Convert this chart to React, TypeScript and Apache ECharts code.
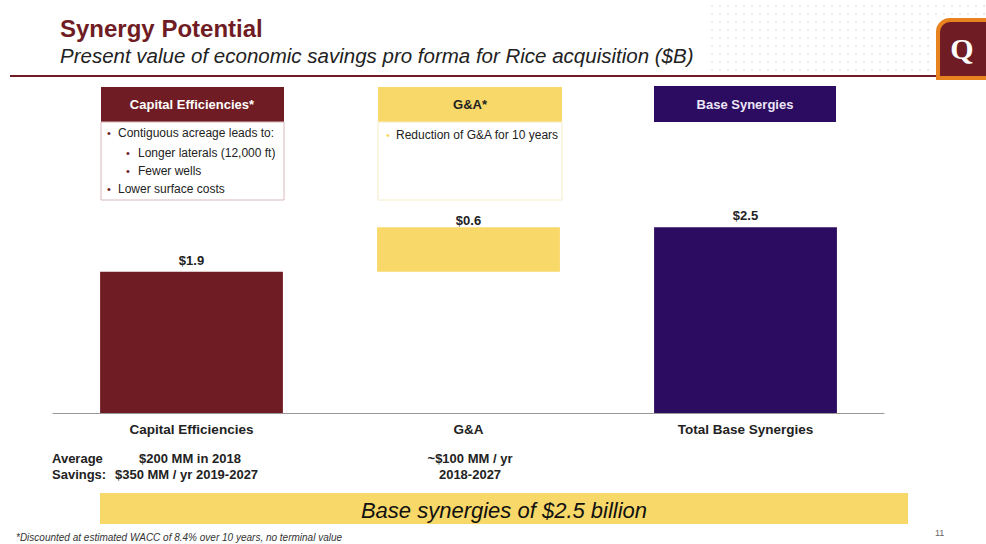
import React, { useEffect, useRef } from "react";
import * as echarts from "echarts";

const categories = ["Capital Efficiencies", "G&A", "Total Base Synergies"];
const values = [1.9, 0.6, 2.5];
const valueLabels = ["$1.9", "$0.6", "$2.5"];
const baseValues = [0, 1.9, 0];
const barColors = ["#701C24", "#F8D868", "#2C0C60"];

const RED = "#701C24";
const YELLOW = "#F8D868";
const PURPLE = "#2C0C60";
const FONT = "Liberation Sans, Arial, sans-serif";

function dots(): any[] {
  const out: any[] = [];
  for (let r = 0; r < 9; r++) {
    for (let c = 0; c < 36; c++) {
      const x = 712 + c * 8;
      const y = 6 + r * 8;
      if (x > 935 && y > 16) continue;
      out.push({
        type: "circle",
        shape: { cx: x, cy: y, r: 1 },
        style: { fill: "#e8e8e8" },
        silent: true,
      });
    }
  }
  return out;
}

export default function App() {
  const ref = useRef<HTMLDivElement>(null);
  useEffect(() => {
    if (!ref.current) return;
    const chart = echarts.init(ref.current, null, { renderer: "svg" });
    const txt = (x: number, y: number, text: string, o: any = {}) => ({
      type: "text",
      x,
      y,
      style: {
        text,
        fill: o.fill || "#222",
        font: o.font || `12px ${FONT}`,
        textAlign: o.align || "left",
        textVerticalAlign: "middle",
      },
    });
    chart.setOption({
      animation: false,
      backgroundColor: "#ffffff",
      grid: { left: 53, right: 102, top: 190, bottom: 131 },
      xAxis: {
        type: "category",
        data: categories,
        axisLine: { show: true, lineStyle: { color: "#999", width: 1 } },
        axisTick: { show: false },
        axisLabel: {
          color: "#222",
          fontFamily: FONT,
          fontWeight: "bold",
          fontSize: 13.5,
          margin: 9,
        },
      },
      yAxis: { type: "value", min: 0, max: 3, show: false, splitLine: { show: false } },
      series: [
        {
          type: "bar",
          stack: "w",
          data: baseValues,
          itemStyle: { color: "transparent" },
          barWidth: "66%",
          silent: true,
        },
        {
          type: "bar",
          stack: "w",
          barWidth: "66%",
          data: values.map((v, i) => ({
            value: v,
            itemStyle: { color: barColors[i] },
            label: i === 1 ? { distance: 0 } : undefined,
          })),
          label: {
            show: true,
            position: "top",
            distance: 5,
            color: "#222",
            fontFamily: FONT,
            fontWeight: "bold",
            fontSize: 13,
            formatter: (p: any) => valueLabels[p.dataIndex],
          },
        },
      ],
      graphic: [
        ...dots(),
        // title
        txt(60, 28, "Synergy Potential", { fill: RED, font: `bold 24px ${FONT}` }),
        txt(60, 55, "Present value of economic savings pro forma for Rice acquisition ($B)", {
          fill: "#222",
          font: `italic 20.5px ${FONT}`,
        }),
        {
          type: "line",
          shape: { x1: 10, y1: 76, x2: 945, y2: 76 },
          style: { stroke: RED, lineWidth: 2 },
        },
        // logo
        {
          type: "rect",
          shape: { x: 938, y: 20, width: 60, height: 58, r: [12, 0, 0, 0] },
          style: { fill: RED, stroke: "#E8821E", lineWidth: 4 },
        },
        txt(962, 48, "Q", { fill: "#ffffff", font: `bold 30px Liberation Serif, serif`, align: "center" }),
        // Capital Efficiencies box
        { type: "rect", shape: { x: 101, y: 87, width: 183, height: 35 }, style: { fill: RED } },
        { type: "rect", shape: { x: 101, y: 122, width: 183, height: 78 }, style: { fill: "#fff", stroke: "#d9b8bc", lineWidth: 1 } },
        txt(192, 104, "Capital Efficiencies*", { fill: "#fff", font: `bold 13px ${FONT}`, align: "center" }),
        txt(107, 133, "•", { fill: RED, font: `11px ${FONT}` }),
        txt(118, 133, "Contiguous acreage leads to:", { font: `12px ${FONT}` }),
        txt(126, 153, "•", { fill: RED, font: `11px ${FONT}` }),
        txt(138, 153, "Longer laterals (12,000 ft)", { font: `12px ${FONT}` }),
        txt(126, 171, "•", { fill: RED, font: `11px ${FONT}` }),
        txt(138, 171, "Fewer wells", { font: `12px ${FONT}` }),
        txt(107, 189, "•", { fill: RED, font: `11px ${FONT}` }),
        txt(118, 189, "Lower surface costs", { font: `12px ${FONT}` }),
        // G&A box
        { type: "rect", shape: { x: 378, y: 87, width: 184, height: 35 }, style: { fill: YELLOW } },
        { type: "rect", shape: { x: 378, y: 122, width: 184, height: 78 }, style: { fill: "#fff", stroke: "#f6ecc4", lineWidth: 1 } },
        txt(470, 104, "G&A*", { fill: "#222", font: `bold 13px ${FONT}`, align: "center" }),
        txt(386, 135, "•", { fill: YELLOW, font: `11px ${FONT}` }),
        txt(396, 135, "Reduction of G&A for 10 years", { font: `12px ${FONT}` }),
        // Base Synergies box
        { type: "rect", shape: { x: 654, y: 86, width: 182, height: 36 }, style: { fill: PURPLE } },
        txt(745, 104, "Base Synergies", { fill: "#ece6f8", font: `bold 13px ${FONT}`, align: "center" }),
        // bottom notes
        txt(52, 458, "Average", { font: `bold 13px ${FONT}` }),
        txt(52, 474, "Savings:", { font: `bold 13px ${FONT}` }),
        txt(190, 458, "$200 MM in 2018", { font: `bold 13px ${FONT}`, align: "center" }),
        txt(115, 474, "$350 MM / yr 2019-2027", { font: `bold 13px ${FONT}` }),
        txt(470, 458, "~$100 MM / yr", { font: `bold 13px ${FONT}`, align: "center" }),
        txt(470, 474, "2018-2027", { font: `bold 13px ${FONT}`, align: "center" }),
        // banner
        { type: "rect", shape: { x: 100, y: 493, width: 808, height: 31 }, style: { fill: YELLOW } },
        txt(504, 510, "Base synergies of $2.5 billion", { fill: "#111", font: `italic 22px ${FONT}`, align: "center" }),
        // footnote
        txt(16, 537, "*Discounted at estimated WACC of 8.4% over 10 years, no terminal value", {
          font: `italic 10px ${FONT}`,
          fill: "#333",
        }),
        txt(935, 533, "11", { font: `9px ${FONT}`, fill: "#666" }),
      ],
    });
    return () => chart.dispose();
  }, []);
  return <div ref={ref} style={{ width: 986, height: 544, position: "absolute", left: 0, top: 0 }} />;
}
